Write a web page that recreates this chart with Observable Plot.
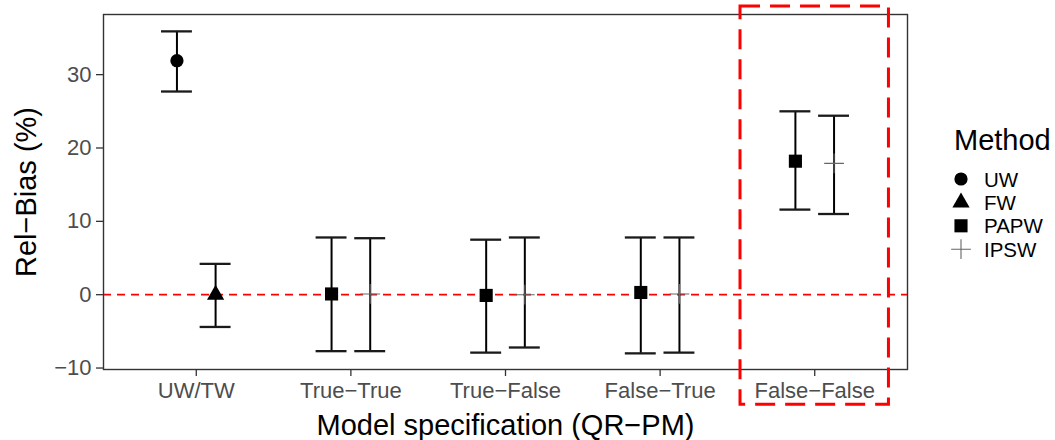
<!DOCTYPE html>
<html>
<head>
<meta charset="utf-8">
<script src="https://cdn.jsdelivr.net/npm/d3@7"></script>
<script src="https://cdn.jsdelivr.net/npm/@observablehq/plot@0.6"></script>
<style>
  html, body { margin: 0; padding: 0; background: #ffffff; }
  #chart svg { display: block; }
</style>
</head>
<body>
<div id="chart"></div>
<script>
// ---- data ----
const categories = ["UW/TW", "True−True", "True−False", "False−True", "False−False"];
const methods = ["UW", "FW", "PAPW", "IPSW"];
const rowCategory = ["UW/TW", "UW/TW", "True−True", "True−True", "True−False", "True−False", "False−True", "False−True", "False−False", "False−False"];
const rowMethod   = ["UW", "FW", "PAPW", "IPSW", "PAPW", "IPSW", "PAPW", "IPSW", "PAPW", "IPSW"];
const estimate    = [31.9, 0.0, 0.1, 0.1, -0.1, 0.0, 0.3, 0.1, 18.2, 17.9];
const lower       = [27.7, -4.4, -7.7, -7.7, -7.9, -7.2, -8.0, -7.9, 11.6, 11.0];
const upper       = [35.9, 4.2, 7.8, 7.7, 7.5, 7.8, 7.8, 7.8, 25.0, 24.4];
const yTicks = [-10, 0, 10, 20, 30];
const highlighted = "False−False";

// ---- table built from the arrays ----
const seen = {};
const rows = rowCategory.map((c, i) => {
  const k = seen[c] = (seen[c] ?? -1) + 1;  // order within the category
  const ci = categories.indexOf(c);
  return {category: c, method: rowMethod[i], est: estimate[i], lo: lower[i], hi: upper[i],
          pos: ci + (k === 0 ? -0.125 : 0.125)};
});
const capHalf = 0.1;
const hi = categories.indexOf(highlighted);
const box = [{x1: hi - 0.48, x2: hi + 0.48, y1: -15.0, y2: 39.3}];
const symbolOf = {UW: "circle", FW: "triangle", PAPW: "square", IPSW: "plus"};
const sizeOf = {UW: 6.6, FW: 6.4, PAPW: 7.4, IPSW: 6.4};

const font = "'Liberation Sans', Arial, Helvetica, sans-serif";
const minus = d => d < 0 ? "−" + Math.abs(d) : String(d);

const dotMarks = methods.map(m => {
  const data = rows.filter(d => d.method === m);
  return m === "IPSW"
    ? Plot.dot(data, {x: "pos", y: "est", symbol: symbolOf[m], r: sizeOf[m], stroke: "#666", strokeWidth: 1.1, fill: "none"})
    : Plot.dot(data, {x: "pos", y: "est", symbol: symbolOf[m], r: sizeOf[m], fill: "#000", stroke: "none"});
});

const chart = Plot.plot({
  width: 1055,
  height: 440,
  marginLeft: 103,
  marginRight: 148,
  marginTop: 14,
  marginBottom: 71,
  style: {fontFamily: font, background: "#ffffff", color: "#000"},
  x: {domain: [-0.6, 4.6], axis: null},
  y: {domain: [-10.2, 38.2], axis: null},
  marks: [
    Plot.ruleY([0], {stroke: "#ff0000", strokeWidth: 1.7, strokeDasharray: "8,6"}),
    Plot.ruleX(rows, {x: "pos", y1: "lo", y2: "hi", stroke: "#000", strokeWidth: 2}),
    Plot.ruleY(rows, {y: "hi", x1: d => d.pos - capHalf, x2: d => d.pos + capHalf, stroke: "#1a1a1a", strokeWidth: 2.3}),
    Plot.ruleY(rows, {y: "lo", x1: d => d.pos - capHalf, x2: d => d.pos + capHalf, stroke: "#1a1a1a", strokeWidth: 2.3}),
    ...dotMarks,
    Plot.frame({stroke: "#333", strokeWidth: 1.4}),
    Plot.axisY({ticks: yTicks, tickFormat: minus, tickSize: 7, tickPadding: 5, fontSize: 22,
                fill: "#4d4d4d", stroke: "#333", strokeWidth: 1.3, label: null}),
    Plot.axisX({ticks: categories.map((c, i) => i), tickFormat: i => categories[i], tickSize: 7, tickPadding: 6,
                fontSize: 22, fill: "#4d4d4d", stroke: "#333", strokeWidth: 1.3, label: null}),
    Plot.text(["Rel−Bias (%)"], {text: d => d, frameAnchor: "left", dx: -77, rotate: -90, fontSize: 29,
                fill: "#000", textAnchor: "middle", lineAnchor: "middle"}),
    Plot.text(["Model specification (QR−PM)"], {text: d => d, frameAnchor: "bottom", dy: 56, fontSize: 29,
                fill: "#000", textAnchor: "middle", lineAnchor: "middle"}),
    Plot.rect(box, {x1: "x1", x2: "x2", y1: "y1", y2: "y2", fill: "none", stroke: "#ff0000", strokeWidth: 3, strokeDasharray: "20,10"})
  ]
});
document.getElementById("chart").appendChild(chart);

// ---- legend (Method) ----
const svg = d3.select(chart);
const lg = svg.append("g").attr("font-family", font).attr("text-anchor", "start");
lg.append("text").attr("x", 954).attr("y", 150).attr("font-size", 29).attr("fill", "#000").text("Method");
const legendSym = {UW: d3.symbolCircle, FW: d3.symbolTriangle, PAPW: d3.symbolSquare, IPSW: d3.symbolPlus};
methods.forEach((m, i) => {
  const cy = 179 + i * 23.4;
  const r = sizeOf[m];
  const path = d3.symbol(legendSym[m], Math.PI * r * r)();
  const p = lg.append("path").attr("d", path).attr("transform", `translate(961,${cy})`);
  if (m === "IPSW") p.attr("fill", "none").attr("stroke", "#666").attr("stroke-width", 1.1);
  else p.attr("fill", "#000");
  lg.append("text").attr("x", 984).attr("y", cy + 7.5).attr("font-size", 20.5).attr("fill", "#000").text(m);
});
</script>
</body>
</html>
